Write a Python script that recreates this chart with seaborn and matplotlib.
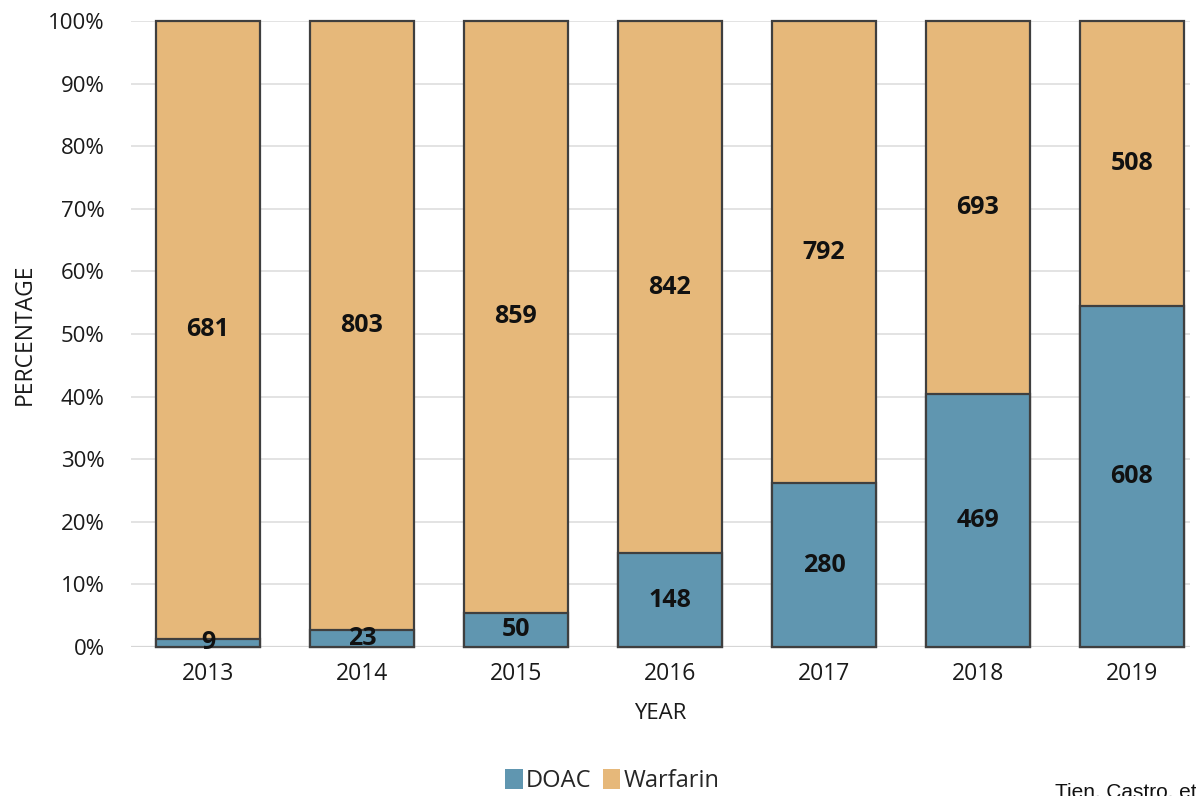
import matplotlib
matplotlib.use("Agg")
import matplotlib.pyplot as plt
import seaborn as sns
import pandas as pd
from matplotlib.patches import Patch

years = ["2013", "2014", "2015", "2016", "2017", "2018", "2019"]
doac = [9, 23, 50, 148, 280, 469, 608]
warfarin = [681, 803, 859, 842, 792, 693, 508]

doac_color = "#6096B0"
warf_color = "#E6B87A"
edge_color = "#3F3F3F"

totals = [d + w for d, w in zip(doac, warfarin)]
doac_pct = [100.0 * d / t for d, t in zip(doac, totals)]
warf_pct = [100.0 * w / t for w, t in zip(warfarin, totals)]
stack_top = [d + w for d, w in zip(doac_pct, warf_pct)]

df = pd.DataFrame({"year": years, "doac_pct": doac_pct, "top": stack_top})

sns.set_theme(style="white")
plt.rcParams["font.family"] = ["Open Sans", "DejaVu Sans"]

fig = plt.figure(figsize=(11.96, 7.96), dpi=100)
ax = fig.add_axes([131 / 1196, 1 - 647 / 796, (1190 - 131) / 1196, (647 - 21) / 796])

bar_w = 0.675
sns.barplot(data=df, x="year", y="top", order=years, color=warf_color,
            width=bar_w, edgecolor=edge_color, linewidth=1.6, saturation=1,
            ax=ax, zorder=2)
sns.barplot(data=df, x="year", y="doac_pct", order=years, color=doac_color,
            width=bar_w, edgecolor=edge_color, linewidth=1.6, saturation=1,
            ax=ax, zorder=3)
for p in ax.patches:
    p.set_clip_on(False)

ax.set_ylim(0, 100)
ax.set_xlim(-0.5, 6.377)
ax.set_yticks(range(0, 101, 10))
ax.set_yticklabels([f"{v}%" for v in range(0, 101, 10)])
ax.yaxis.grid(True, color="#E3E3E3", linewidth=1.4, zorder=0)
ax.set_axisbelow(True)
for s in ax.spines.values():
    s.set_visible(False)
ax.tick_params(axis="y", length=0, pad=19, labelsize=16, labelcolor="#1A1A1A")
ax.tick_params(axis="x", length=0, pad=11, labelsize=16.5, labelcolor="#1A1A1A")
ax.axhline(0, color="#D6D6D6", linewidth=1.6, zorder=1)

ax.set_xlabel("YEAR", fontsize=16, color="#1A1A1A", labelpad=12)
ax.set_ylabel("PERCENTAGE", fontsize=16.5, color="#1A1A1A", labelpad=8)

# count labels centred in each segment
for i in range(len(years)):
    ax.text(i, doac_pct[i] / 2, str(doac[i]), ha="center", va="center",
            fontsize=18, fontweight="bold", color="#111111", zorder=5)
    ax.text(i, doac_pct[i] + warf_pct[i] / 2, str(warfarin[i]), ha="center",
            va="center", fontsize=18, fontweight="bold", color="#111111", zorder=5)

handles = [Patch(facecolor=doac_color, edgecolor="none", label="DOAC"),
           Patch(facecolor=warf_color, edgecolor="none", label="Warfarin")]
fig.legend(handles=handles, loc="center", bbox_to_anchor=(612 / 1196, 1 - 781 / 796),
           ncol=2, frameon=False, fontsize=17, handlelength=0.75,
           handleheight=0.95, handletextpad=0.12, columnspacing=0.5,
           borderpad=0)

fig.text(1055 / 1196, 1 - 783 / 796, "Tien, Castro, et al.", ha="left", va="top",
         fontsize=15, family=["Liberation Sans", "DejaVu Sans"], color="#111111")

fig.savefig("out.png", dpi=100)
